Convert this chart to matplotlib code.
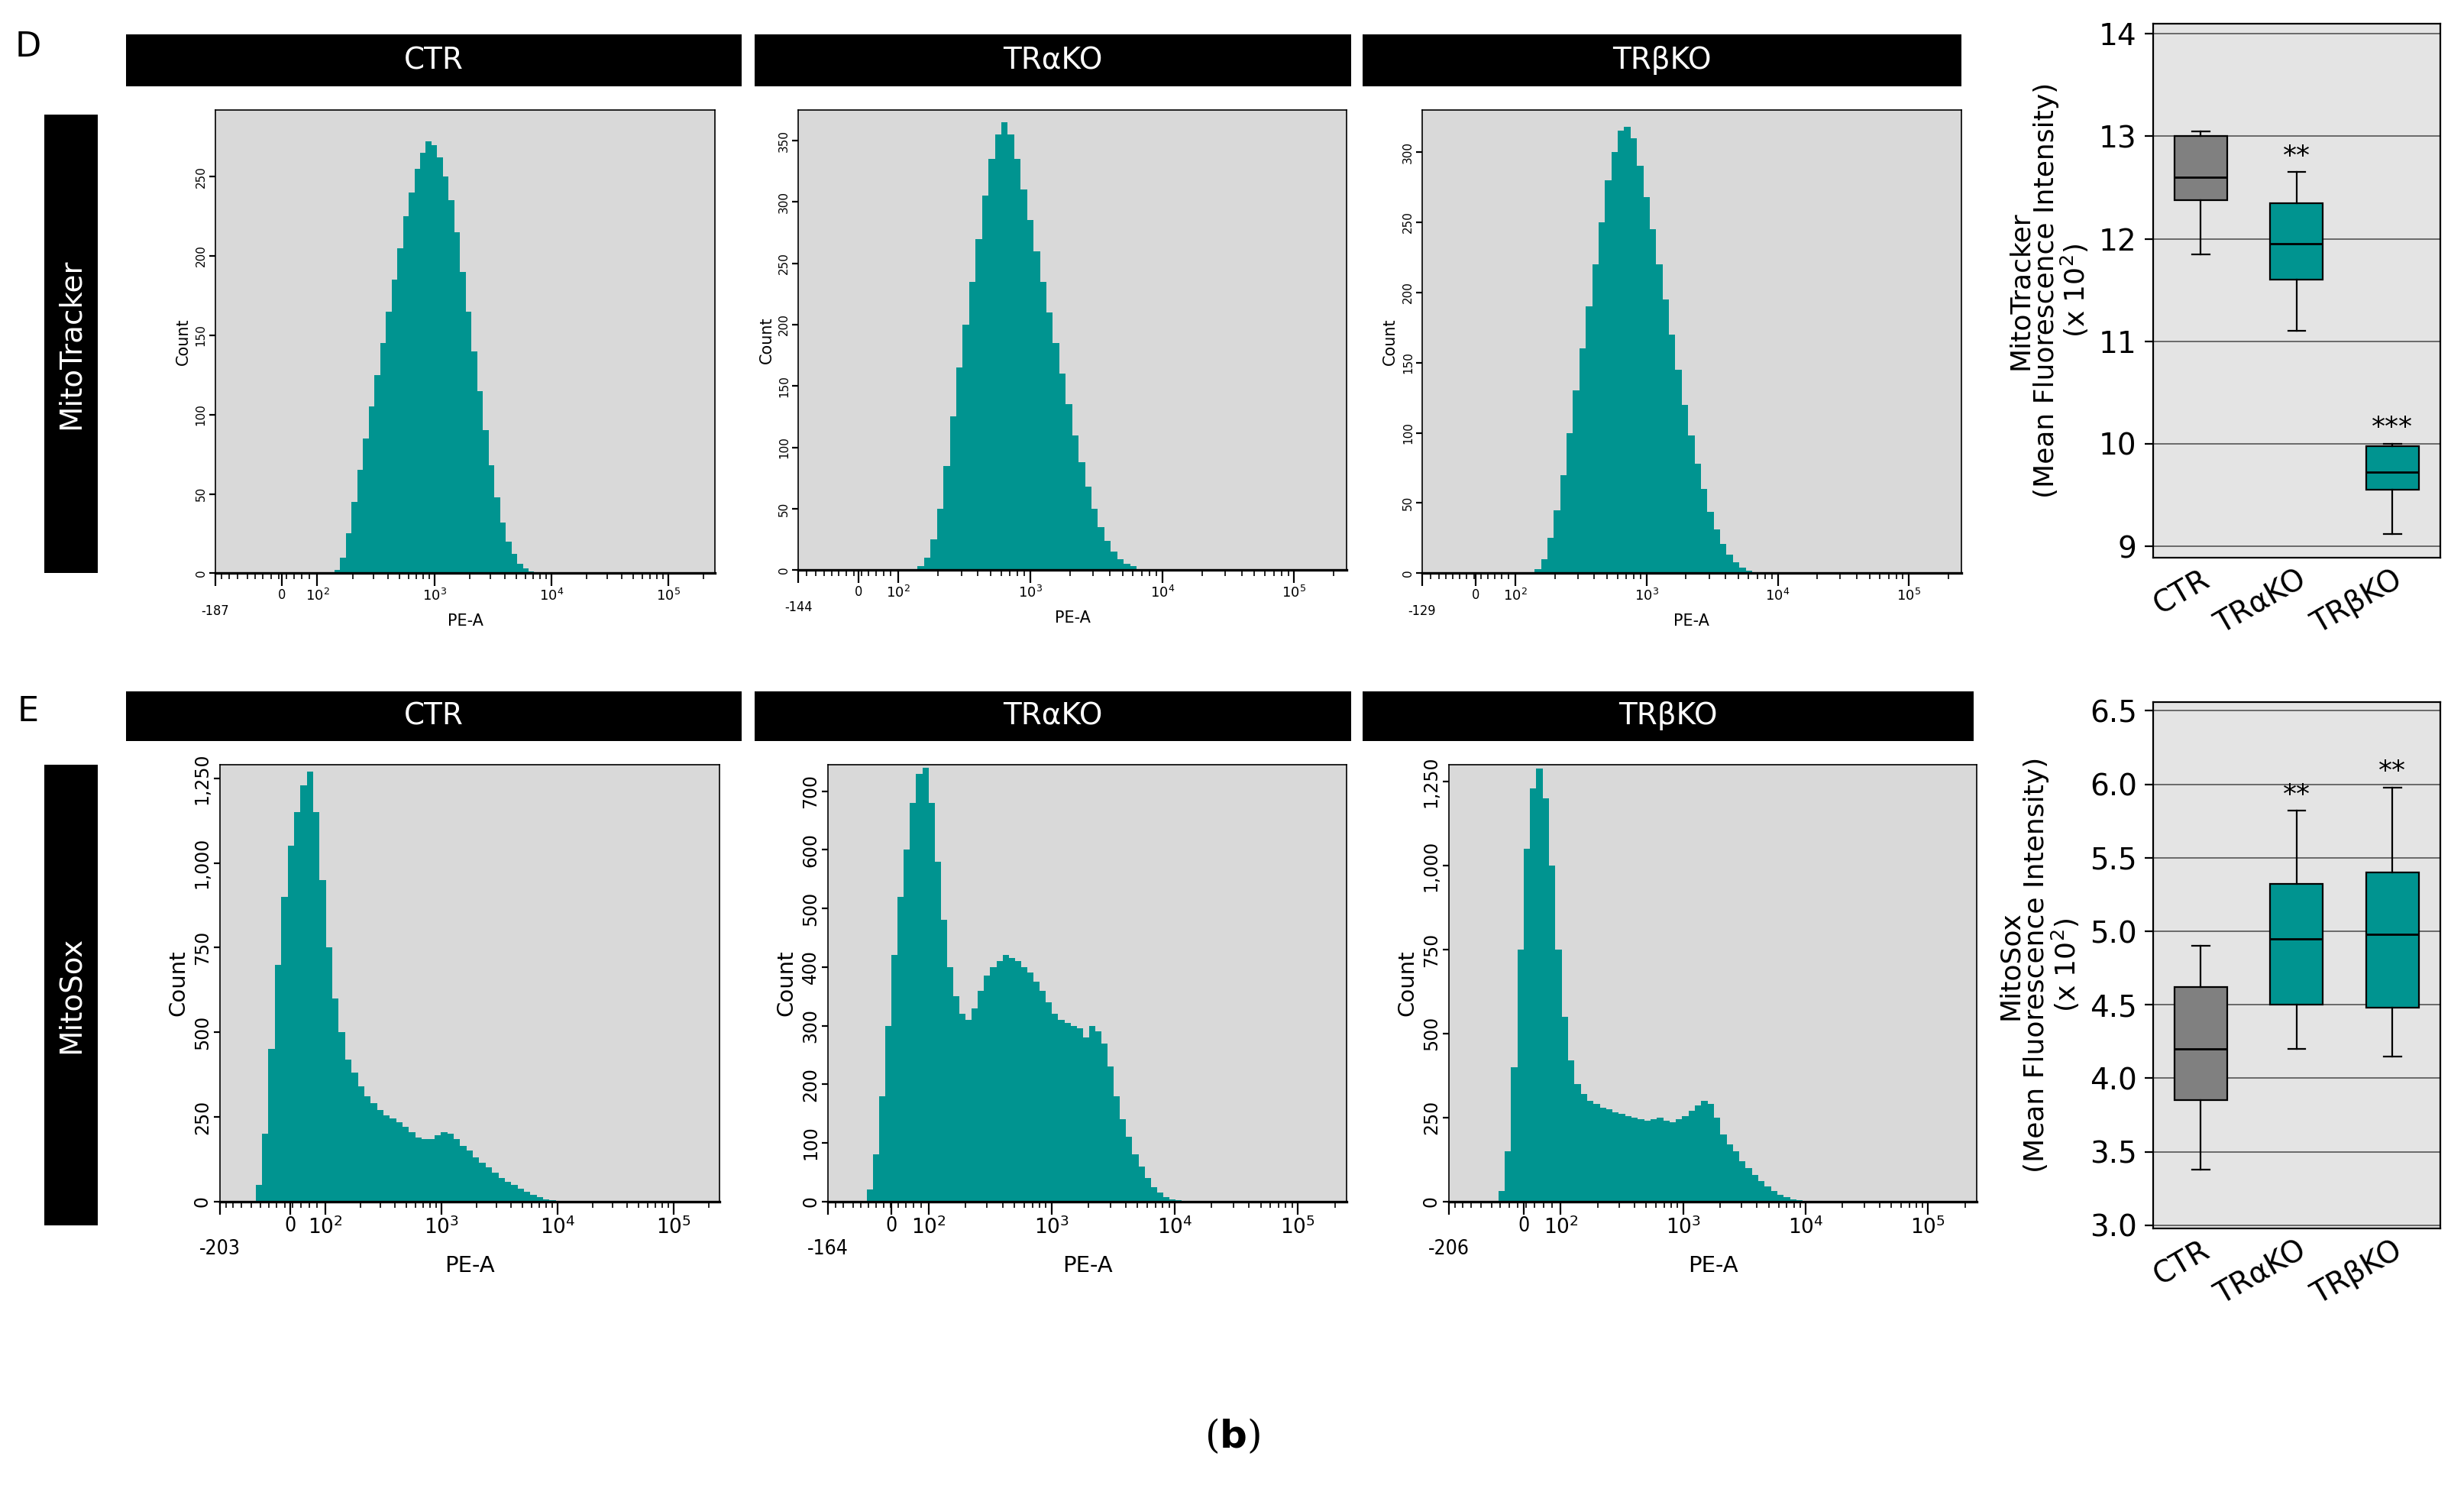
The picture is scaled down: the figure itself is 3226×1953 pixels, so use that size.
import numpy as np
import matplotlib
matplotlib.use("Agg")
import matplotlib.pyplot as plt

W, H = 1568.0, 950.0
TEAL = "#009490"

# ---------- data ----------
groups = ["CTR", "TRαKO", "TRβKO"]

mt_ctr = [0, 0, 0, 2, 10, 25, 45, 65, 85, 105, 125, 145, 165, 185, 205, 225, 240, 255, 265, 272,
          270, 262, 250, 235, 215, 190, 165, 140, 115, 90, 68, 48, 32, 20, 12, 6, 3, 1, 0, 0, 0]
mt_tra = [0, 0, 0, 3, 10, 25, 50, 85, 125, 165, 200, 235, 270, 305, 335, 355, 365, 355, 335, 310,
          285, 260, 235, 210, 185, 160, 135, 110, 88, 68, 50, 35, 24, 15, 9, 5, 3, 1, 0, 0, 0]
mt_trb = [0, 0, 0, 3, 10, 25, 45, 70, 100, 130, 160, 190, 220, 250, 280, 300, 315, 318, 310, 290,
          268, 245, 220, 195, 170, 145, 120, 98, 78, 60, 44, 31, 21, 13, 8, 4, 2, 1, 0, 0, 0]
mt_range = (100, 10000)

ms_ctr = [50, 200, 450, 700, 900, 1050, 1150, 1230, 1270, 1150, 950, 750, 600, 500, 420, 380, 340, 310,
          290, 270, 255, 245, 235, 220, 205, 190, 185, 185, 195, 205, 200, 185, 165, 150, 130, 115, 100,
          85, 70, 58, 48, 38, 28, 20, 12, 7, 3, 1]
ms_tra = [20, 80, 180, 300, 420, 520, 600, 680, 730, 740, 680, 580, 480, 400, 350, 320, 310, 330, 360,
          385, 400, 410, 420, 415, 410, 400, 390, 375, 360, 340, 320, 310, 305, 300, 295, 280, 300, 290,
          270, 230, 180, 140, 110, 80, 60, 40, 25, 15, 8, 4, 2, 1]
ms_trb = [30, 150, 400, 750, 1050, 1230, 1290, 1200, 1000, 750, 550, 420, 350, 320, 300, 290, 280, 275,
          265, 260, 255, 250, 245, 240, 245, 250, 240, 235, 245, 255, 270, 285, 300, 290, 250, 200, 170,
          150, 120, 100, 80, 60, 45, 30, 20, 12, 7, 4, 2, 1]
ms_ranges = [(-100, 11000), (-67, 12800), (-70, 12000)]

mt_box = [(11.85, 12.38, 12.6, 13.0, 13.05), (11.1, 11.6, 11.95, 12.35, 12.65), (9.12, 9.55, 9.72, 9.98, 10.0)]
mt_stars = ["", "**", "***"]
ms_box = [(3.38, 3.85, 4.2, 4.62, 4.9), (4.2, 4.5, 4.95, 5.32, 5.82), (4.15, 4.48, 4.98, 5.4, 5.98)]
ms_stars = ["", "**", "**"]

mt_xmin = [-187, -144, -129]
ms_xmin = [-203, -164, -206]
mt_ymax = [292, 375, 330]
ms_ymax = [1290, 745, 1300]
mt_yticks = [[0, 50, 100, 150, 200, 250], [0, 50, 100, 150, 200, 250, 300, 350], [0, 50, 100, 150, 200, 250, 300]]
ms_yticks = [[0, 250, 500, 750, 1000, 1250], [0, 100, 200, 300, 400, 500, 600, 700], [0, 250, 500, 750, 1000, 1250]]

fig = plt.figure(figsize=(16.13, 9.765), dpi=200)


def box(x1, y1, x2, y2):
    return [x1 / W, 1 - y2 / H, (x2 - x1) / W, (y2 - y1) / H]


def black_bar(x1, y1, x2, y2, text, rot=0):
    a = fig.add_axes(box(x1, y1, x2, y2))
    a.set_facecolor("black")
    a.set_xticks([]); a.set_yticks([])
    for s in a.spines.values():
        s.set_visible(False)
    a.text(0.5, 0.5, text, color="white", fontsize=14, ha="center", va="center", rotation=rot,
           transform=a.transAxes)


def hist(rect, counts, rng, xmin, ymax, yticks, big):
    ax = fig.add_axes(box(*rect))
    ax.set_facecolor("#d9d9d9")
    ax.set_xscale("symlog", linthresh=100, linscale=0.27)
    tr = ax.xaxis.get_transform()
    u = np.linspace(tr.transform([rng[0]])[0], tr.transform([rng[1]])[0], len(counts) + 1)
    edges = tr.inverted().transform(u)
    ax.stairs(counts, edges, fill=True, color=TEAL, lw=0)
    ax.set_xlim(xmin, 2.5e5)
    ax.set_ylim(0, ymax)
    fs = 8.5 if big else 5.5
    ax.set_xticks([xmin, 0, 100, 1000, 1e4, 1e5])
    ax.set_xticklabels(["\n" + str(xmin), "0", "$10^2$", "$10^3$", "$10^4$", "$10^5$"], fontsize=fs + 1,
                       fontstretch="condensed")
    minors = list(np.linspace(xmin, 100, 14)[1:-1]) + [v * d for d in (100, 1000, 10000) for v in range(2, 10)] + [2e5]
    ax.set_xticks(minors, minor=True)
    ax.tick_params(axis="x", which="major", length=6, pad=1)
    ax.tick_params(axis="x", which="minor", length=3)
    ax.set_yticks(yticks)
    ax.set_yticklabels([f"{t:,}" for t in yticks], rotation=90, va="center", fontsize=fs)
    ax.tick_params(axis="y", length=3, pad=1)
    ax.set_xlabel("PE-A", fontsize=fs + 2, labelpad=-2)
    ax.set_ylabel("Count", fontsize=fs + 2, labelpad=2)
    for s in ax.spines.values():
        s.set_linewidth(0.6)
    ax.spines["bottom"].set_linewidth(1.2)
    return ax


def boxplot(rect, stats_list, stars, ylim, yticks, fmt, ylabel):
    ax = fig.add_axes(box(*rect))
    ax.set_facecolor("#e4e4e4")
    stats = []
    for (lo, q1, md, q3, hi), lab in zip(stats_list, groups):
        stats.append(dict(whislo=lo, q1=q1, med=md, q3=q3, whishi=hi, label=lab, fliers=[]))
    b = ax.bxp(stats, widths=0.55, patch_artist=True, showfliers=False,
               medianprops=dict(color="black", lw=1), whiskerprops=dict(lw=0.8),
               capprops=dict(lw=0.8), boxprops=dict(lw=0.8))
    for i, p in enumerate(b["boxes"]):
        p.set_facecolor("#808080" if i == 0 else TEAL)
    for c in b["caps"]:
        x = c.get_xdata(); m = x.mean(); c.set_xdata([m - 0.09, m + 0.09])
    for i, (s, st) in enumerate(zip(stars, stats_list)):
        if s:
            ax.text(i + 1, st[4] + (ylim[1] - ylim[0]) * 0.005, s, ha="center", va="bottom", fontsize=13)
    ax.set_ylim(*ylim)
    ax.set_xlim(0.5, 3.5)
    ax.set_yticks(yticks)
    ax.set_yticklabels([fmt.format(t) for t in yticks], fontsize=14)
    ax.yaxis.grid(True, color="#555555", lw=0.6)
    ax.set_axisbelow(True)
    ax.set_xticks([1, 2, 3])
    ax.set_xticklabels(groups, rotation=30, fontsize=14, ha="right", rotation_mode="anchor")
    ax.tick_params(axis="x", length=0)
    ax.tick_params(axis="y", length=4)
    ax.set_ylabel(ylabel, fontsize=13, linespacing=1.0)
    return ax


# ---- row D ----
fig.text(18 / W, 1 - 30 / H, "D", fontsize=16, ha="center", va="center")
black_bar(80, 22, 472, 55, "CTR")
black_bar(480, 22, 860, 55, "TRαKO")
black_bar(867, 22, 1248, 55, "TRβKO")
black_bar(28, 73, 62, 365, "MitoTracker", rot=90)
mt_rects = [(137, 70, 455, 365), (508, 70, 857, 363), (905, 70, 1248, 365)]
for r, c, xm, ym, yt in zip(mt_rects, [mt_ctr, mt_tra, mt_trb], mt_xmin, mt_ymax, mt_yticks):
    hist(r, c, mt_range, xm, ym, yt, False)
boxplot((1370, 15, 1553, 355), mt_box, mt_stars, (8.89, 14.1), [9, 10, 11, 12, 13, 14], "{:.0f}",
        "MitoTracker\n(Mean Fluorescence Intensity)\n(x 10$^2$)")

# ---- row E ----
fig.text(18 / W, 1 - 453 / H, "E", fontsize=16, ha="center", va="center")
black_bar(80, 440, 472, 472, "CTR")
black_bar(480, 440, 860, 472, "TRαKO")
black_bar(867, 440, 1256, 472, "TRβKO")
black_bar(28, 487, 62, 780, "MitoSox", rot=90)
ms_rects = [(140, 487, 458, 765), (527, 487, 857, 765), (922, 487, 1258, 765)]
for r, c, rg, xm, ym, yt in zip(ms_rects, [ms_ctr, ms_tra, ms_trb], ms_ranges, ms_xmin, ms_ymax, ms_yticks):
    hist(r, c, rg, xm, ym, yt, True)
boxplot((1370, 447, 1553, 782), ms_box, ms_stars, (2.98, 6.56), [3.0, 3.5, 4.0, 4.5, 5.0, 5.5, 6.0, 6.5], "{:.1f}",
        "MitoSox\n(Mean Fluorescence Intensity)\n(x 10$^2$)")

fig.text(0.5, 1 - 915 / H, "($\\mathbf{b}$)", fontsize=18, ha="center", va="center", family="DejaVu Serif")

fig.savefig("out.png", dpi=200)
